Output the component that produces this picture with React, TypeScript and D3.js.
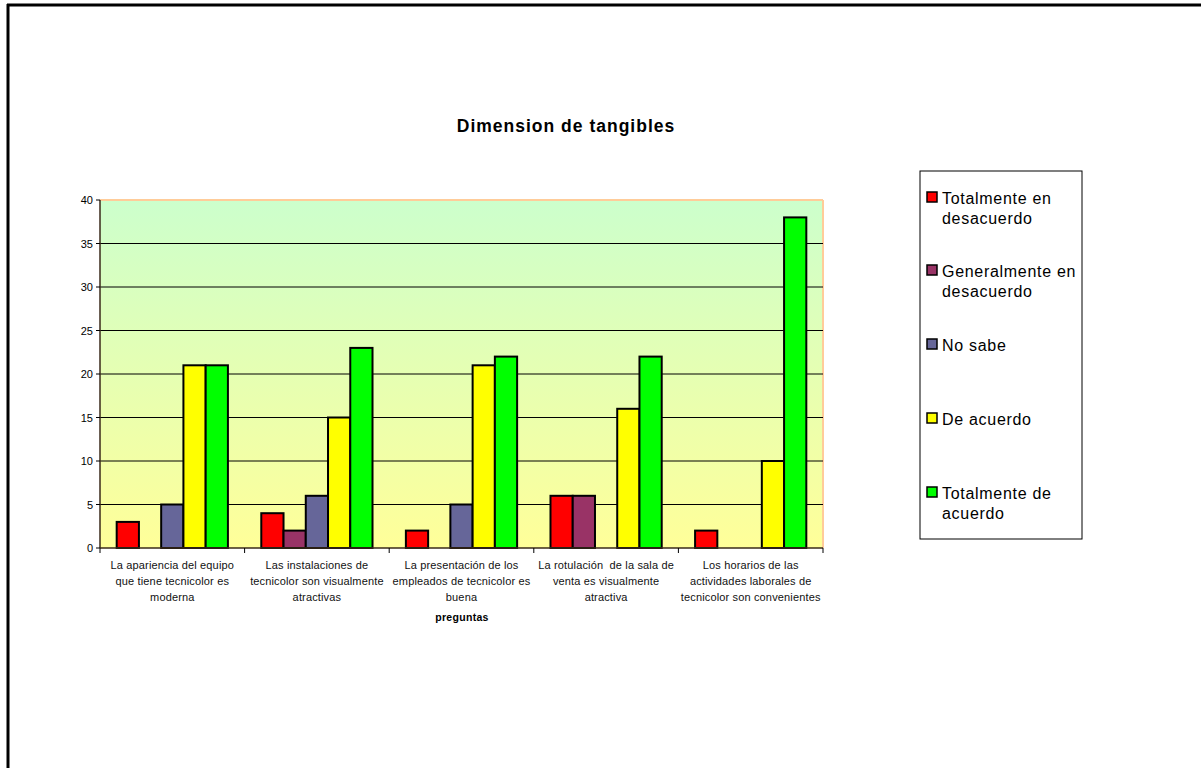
import React from "react";
import * as d3 from "d3";

const categories = [
  ["La apariencia del equipo", "que tiene tecnicolor es", "moderna"],
  ["Las instalaciones de", "tecnicolor son visualmente", "atractivas"],
  ["La presentación de los", "empleados de tecnicolor es", "buena"],
  ["La rotulación  de la sala de", "venta es visualmente", "atractiva"],
  ["Los horarios de las", "actividades laborales de", "tecnicolor son convenientes"],
];

const seriesNames = [
  ["Totalmente en", "desacuerdo"],
  ["Generalmente en", "desacuerdo"],
  ["No sabe"],
  ["De acuerdo"],
  ["Totalmente de", "acuerdo"],
];
const seriesColors = ["#FF0000", "#993366", "#666699", "#FFFF00", "#00FF00"];

const totalDesacuerdo = [3, 4, 2, 6, 2];
const generalDesacuerdo = [0, 2, 0, 6, 0];
const noSabe = [5, 6, 5, 0, 0];
const deAcuerdo = [21, 15, 21, 16, 10];
const totalAcuerdo = [21, 23, 22, 22, 38];
const series = [totalDesacuerdo, generalDesacuerdo, noSabe, deAcuerdo, totalAcuerdo];

const yTicks = [0, 5, 10, 15, 20, 25, 30, 35, 40];
const legendRows = [198, 271, 345, 419, 493];

const W = 1201,
  H = 768;
const plot = { left: 100, right: 823, top: 200, bottom: 548 };
const font = "Arial, 'Liberation Sans', sans-serif";

export default function App() {
  const x = d3
    .scaleBand<number>()
    .domain(d3.range(categories.length))
    .range([plot.left, plot.right]);
  // gap width 150%: 0.75 bar-width on each side of the group
  const inner = d3
    .scaleBand<number>()
    .domain(d3.range(series.length))
    .range([0, x.bandwidth()])
    .paddingOuter(0.75)
    .paddingInner(0);
  const y = d3.scaleLinear().domain([0, 40]).range([plot.bottom, plot.top]);

  return (
    <svg
      width={W}
      height={H}
      style={{ position: "absolute", left: 0, top: 0, background: "#fff" }}
      fontFamily={font}
    >
      <defs>
        <linearGradient id="bg" x1="0" y1="0" x2="0" y2="1">
          <stop offset="0" stopColor="#CCFFCC" />
          <stop offset="1" stopColor="#FFFF99" />
        </linearGradient>
      </defs>
      {/* outer frame */}
      <line x1={7} y1={5} x2={W} y2={5} stroke="#000" strokeWidth={3} />
      <line x1={8} y1={4} x2={8} y2={H} stroke="#000" strokeWidth={3} />

      <text x={566} y={132} textAnchor="middle" fontSize={17.5} fontWeight="bold" letterSpacing={1}>
        Dimension de tangibles
      </text>

      <rect
        x={plot.left}
        y={plot.top}
        width={plot.right - plot.left}
        height={plot.bottom - plot.top}
        fill="url(#bg)"
      />
      <line x1={plot.left} y1={plot.top} x2={plot.right} y2={plot.top} stroke="#FFCC99" strokeWidth={2} />
      <line x1={plot.right} y1={plot.top} x2={plot.right} y2={plot.bottom} stroke="#FFCC99" strokeWidth={2} />

      {yTicks.slice(1, -1).map((t) => (
        <line key={t} x1={plot.left} x2={plot.right} y1={y(t)} y2={y(t)} stroke="#000" strokeWidth={1} />
      ))}

      {series.map((vals, si) =>
        vals.map((v, ci) =>
          v > 0 ? (
            <rect
              key={`${si}-${ci}`}
              x={(x(ci) as number) + (inner(si) as number)}
              y={y(v)}
              width={inner.bandwidth()}
              height={y(0) - y(v)}
              fill={seriesColors[si]}
              stroke="#000"
              strokeWidth={2}
            />
          ) : null
        )
      )}

      {/* axes */}
      <line x1={plot.left} y1={plot.top} x2={plot.left} y2={plot.bottom} stroke="#3a2a1a" strokeWidth={1.5} />
      <line x1={plot.left} y1={plot.bottom} x2={plot.right} y2={plot.bottom} stroke="#3a2a1a" strokeWidth={1.5} />
      {yTicks.map((t) => (
        <g key={t}>
          <line x1={plot.left - 4} x2={plot.left} y1={y(t)} y2={y(t)} stroke="#000" />
          <text x={plot.left - 7} y={y(t) + 4} textAnchor="end" fontSize={11}>
            {t}
          </text>
        </g>
      ))}
      {d3.range(categories.length + 1).map((i) => {
        const px = plot.left + i * x.step();
        return <line key={i} x1={px} x2={px} y1={plot.bottom} y2={plot.bottom + 5} stroke="#000" />;
      })}
      {categories.map((lines, ci) => (
        <text
          key={ci}
          textAnchor="middle"
          fontSize={11}
          letterSpacing={0.15}
          fill="#111"
          style={{ whiteSpace: "pre" }}
        >
          {lines.map((ln, li) => (
            <tspan key={li} x={(x(ci) as number) + x.bandwidth() / 2} y={569 + li * 16}>
              {ln}
            </tspan>
          ))}
        </text>
      ))}
      <text x={462} y={621} textAnchor="middle" fontSize={10.5} fontWeight="bold" letterSpacing={0.3}>
        preguntas
      </text>

      {/* legend */}
      <rect x={920} y={171} width={162} height={368} fill="#fff" stroke="#000" strokeWidth={1} />
      {seriesNames.map((lines, si) => (
        <g key={si}>
          <rect
            x={927}
            y={legendRows[si] - 6}
            width={10}
            height={10}
            fill={seriesColors[si]}
            stroke="#000"
            strokeWidth={1.5}
          />
          <text fontSize={16} letterSpacing={0.7}>
            {lines.map((ln, li) => (
              <tspan key={li} x={942} y={legendRows[si] + 6 + li * 20}>
                {ln}
              </tspan>
            ))}
          </text>
        </g>
      ))}
    </svg>
  );
}
